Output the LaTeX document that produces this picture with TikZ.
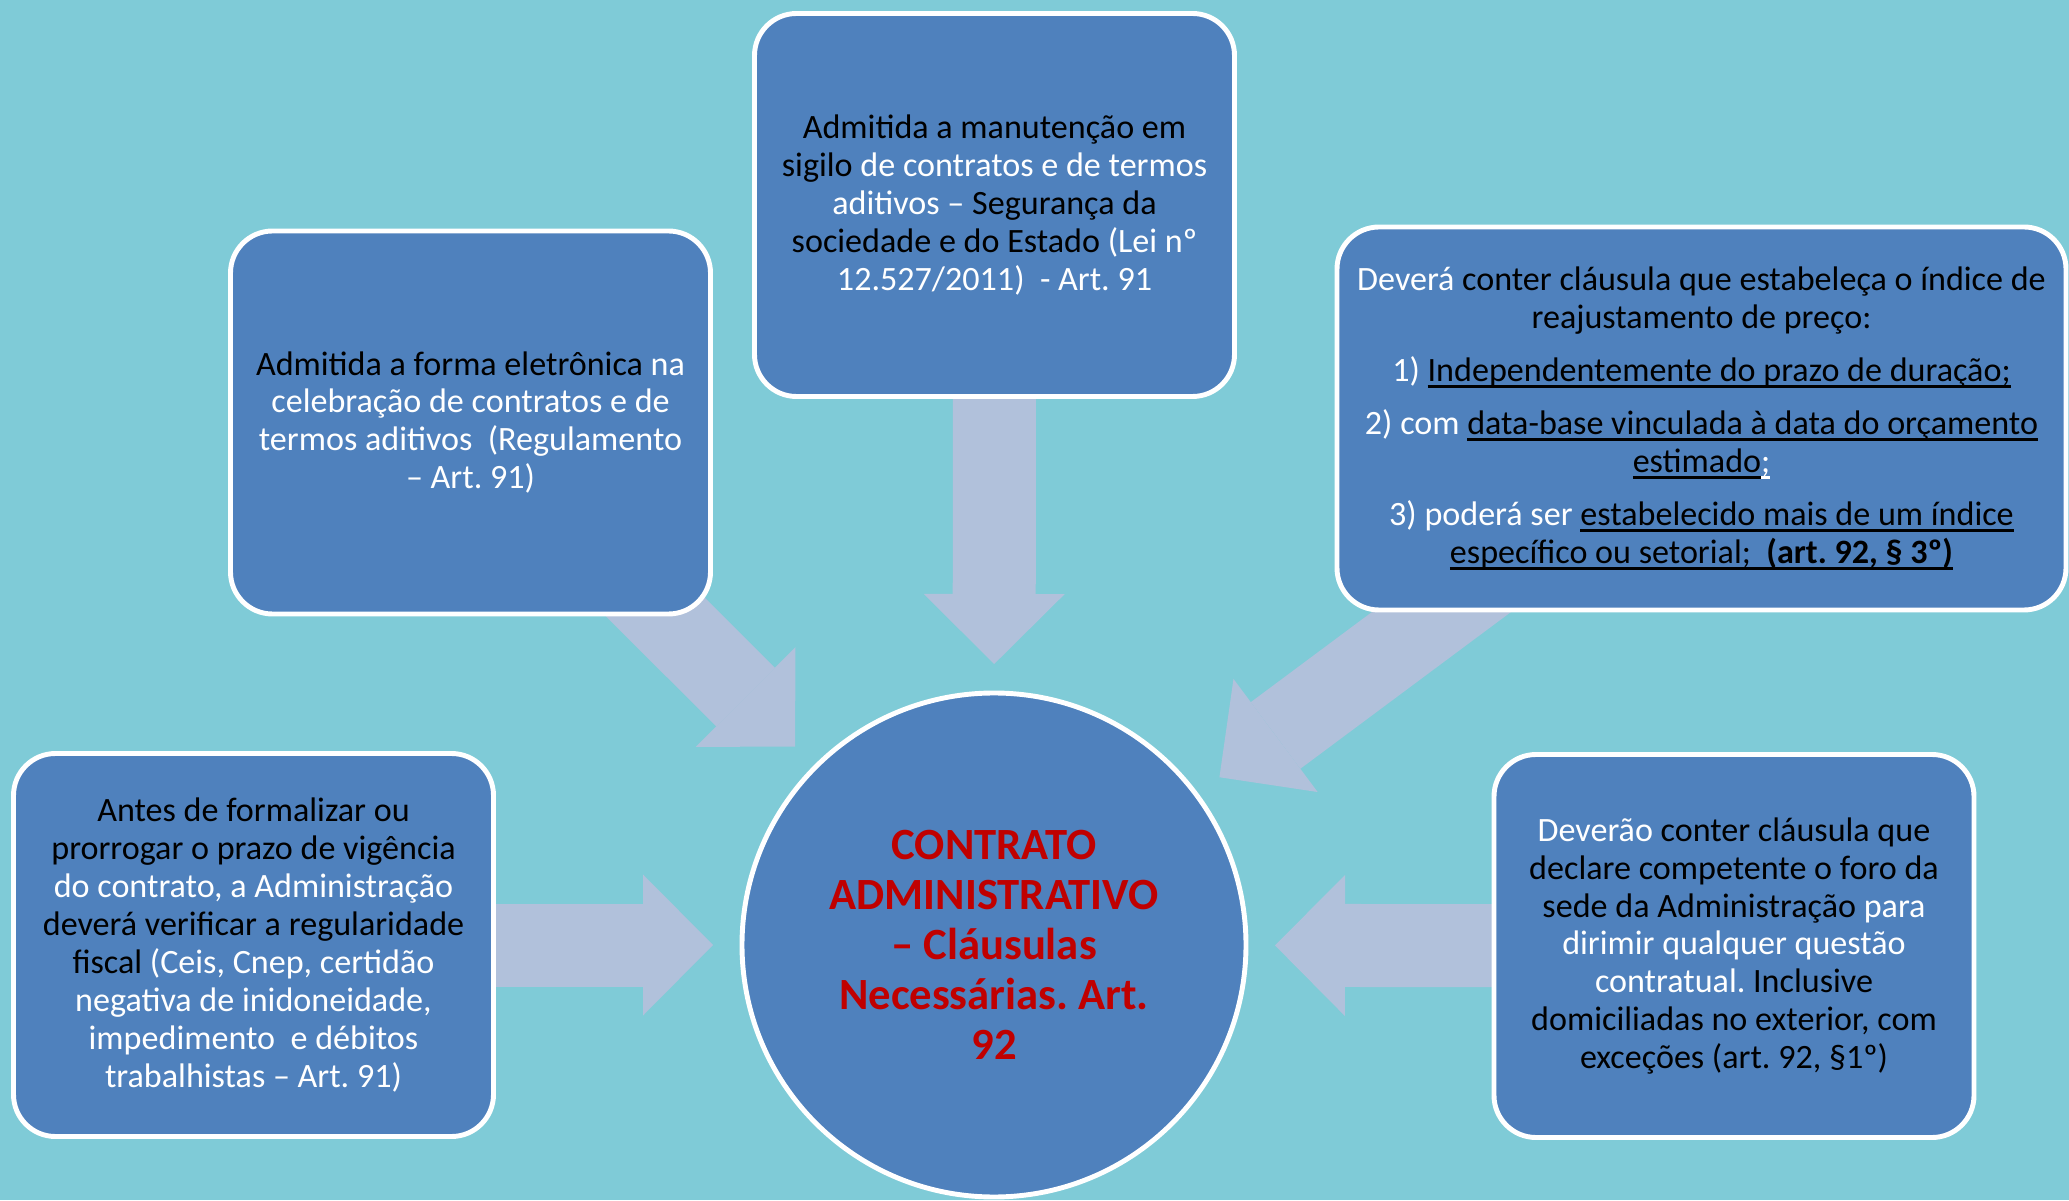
\documentclass[tikz,border=0pt]{standalone}
\usepackage{fontspec}
\setmainfont{Carlito}
\usepackage{xcolor}
\usetikzlibrary{arrows.meta}

\definecolor{bgteal}{HTML}{7FCBD7}
\definecolor{boxblue}{HTML}{4F81BD}
\definecolor{arrowblue}{HTML}{B1C1DB}
\definecolor{titlered}{HTML}{C00000}

\frenchspacing
\newcommand{\blk}[1]{\textcolor{black}{#1}}
\newsavebox{\ulbox}
\newcommand{\uln}[1]{\sbox{\ulbox}{#1}\rlap{\rule[-1.7pt]{\wd\ulbox}{0.7pt}}\usebox{\ulbox}}

\pgfdeclarelayer{behind}
\pgfsetlayers{behind,main}

\tikzset{
    clausebox/.style={rectangle, rounded corners=0.42cm, draw=white, line width=1.4pt,
            fill=boxblue, text=white, align=center, minimum width=4.8cm, minimum height=3.83cm,
            inner sep=0pt, outer sep=0pt, font=\fontsize{9.7}{10.8}\selectfont},
    hubcircle/.style={circle, draw=white, line width=1.4pt, fill=boxblue, text=titlered,
            align=center, minimum size=5.04cm, inner sep=0pt, outer sep=0pt,
            font=\bfseries\fontsize{12.7}{14.2}\selectfont},
    fatarrow/.style={draw=arrowblue, line width=0.83cm, shorten >=0.29cm,
            -{Triangle[length=0.7cm, width=1.41cm, line width=0pt, fill=arrowblue]}},
}

\begin{document}
\begin{tikzpicture}
        \useasboundingbox (0,0) rectangle (20.69,12);

        % Centre of the diagram
        \node[hubcircle] (contrato) at (9.94,2.55) {CONTRATO\\ADMINISTRATIVO\\– Cláusulas\\Necessárias. Art.\\92};

        % Boxes round it
        \node[clausebox] (sigilo) at (9.945,9.95) {%
            \blk{Admitida a manutenção em}\\
            \blk{sigilo} de contratos e de termos\\
            aditivos – \blk{Segurança da}\\
            \blk{sociedade e do Estado} (Lei nº\\
            12.527/2011)~ - Art. 91};

        \node[clausebox] (eletronica) at (4.705,7.775) {%
            \blk{Admitida a forma eletrônica} na\\
            celebração de contratos e de\\
            termos aditivos~ (Regulamento\\
            – Art. 91)};

        \node[clausebox, minimum width=7.29cm] (reajuste) at (17.015,7.815) {%
            Deverá \blk{conter cláusula que estabeleça o índice de}\\
            \blk{reajustamento de preço:}\\[4.3pt]
            1) \blk{\uln{Independentemente do prazo de duração;}}\\[4.3pt]
            2) com \blk{\uln{data-base vinculada à data do orçamento}}\\
            \blk{\uln{estimado}}\uln{;}\\[4.3pt]
            3) poderá ser \blk{\uln{estabelecido mais de um índice}}\\
            \blk{\uln{específico ou setorial;~ \textbf{(art. 92, § 3º)}}}};

        \node[clausebox] (regularidade) at (2.535,2.55) {%
            \blk{Antes de formalizar ou}\\
            \blk{prorrogar o prazo de vigência}\\
            do contrato, a Administração\\
            \blk{deverá verificar a regularidade}\\
            \blk{fiscal} (Ceis, Cnep, certidão\\
            negativa de inidoneidade,\\
            impedimento~ e débitos\\
            trabalhistas – Art. 91)};

        \node[clausebox] (foro) at (17.34,2.54) {%
            Deverão \blk{conter cláusula que}\\
            \blk{declare competente o foro da}\\
            \blk{sede da Administração} para\\
            dirimir qualquer questão\\
            contratual. \blk{Inclusive}\\
            \blk{domiciliadas no exterior, com}\\
            \blk{exceções (art. 92, §1º)}};

        % Background and arrows
        \begin{pgfonlayer}{behind}
            \fill[bgteal] (0,0) rectangle (20.69,12);
            \foreach \src in {sigilo, eletronica, reajuste, regularidade, foro}
                \draw[fatarrow] (\src.center) -- (contrato);
        \end{pgfonlayer}
\end{tikzpicture}
\end{document}
